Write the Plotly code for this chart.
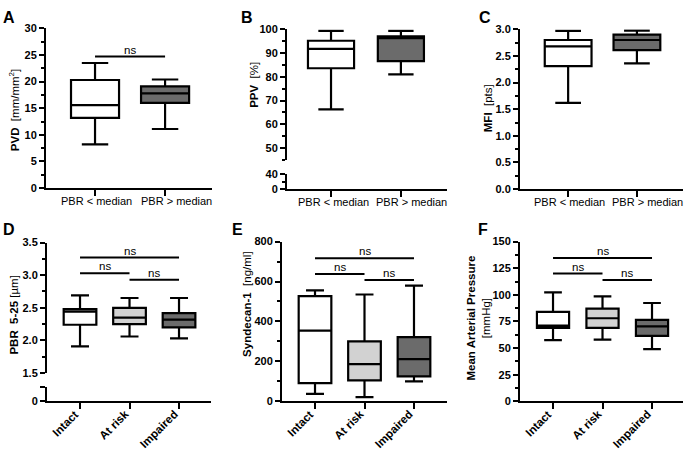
import plotly.graph_objects as go

W, H = 685, 454
FONT = "Liberation Sans, Arial, Helvetica, sans-serif"

# ---------------- data ----------------
ab_cats = ["PBR < median", "PBR > median"]
grp_cats = ["Intact", "At risk", "Impaired"]

# A: PVD
a_low = [8.2, 11.1]
a_q1 = [13.2, 16.0]
a_med = [15.6, 17.8]
a_q3 = [20.3, 19.1]
a_high = [23.5, 20.4]
a_sig = [(0, 1, 24.7)]

# B: PPV
b_low = [66.3, 81.0]
b_q1 = [83.6, 86.6]
b_med = [91.8, 96.3]
b_q3 = [95.2, 97.1]
b_high = [99.4, 99.4]
b_sig = [(0, 1, 102.0)]

# C: MFI
c_low = [1.62, 2.36]
c_q1 = [2.31, 2.61]
c_med = [2.68, 2.80]
c_q3 = [2.80, 2.90]
c_high = [2.97, 2.975]
c_sig = [(0, 1, 3.06)]

# D: PBR 5-25
d_low = [1.91, 2.06, 2.03]
d_q1 = [2.24, 2.25, 2.20]
d_med = [2.44, 2.35, 2.32]
d_q3 = [2.48, 2.50, 2.42]
d_high = [2.69, 2.65, 2.65]
d_sig = [(0, 2, 3.27), (0, 1, 3.03), (1, 2, 2.93)]

# E: Syndecan-1
e_low = [37, 21, 100]
e_q1 = [91, 105, 125]
e_med = [354, 186, 211]
e_q3 = [527, 300, 321]
e_high = [556, 535, 579]
e_sig = [(0, 2, 716), (0, 1, 638), (1, 2, 608)]

# F: Mean arterial pressure
f_low = [57.4, 58.0, 48.9]
f_q1 = [69.0, 69.0, 61.4]
f_med = [71.0, 78.0, 70.3]
f_q3 = [84.0, 87.0, 76.4]
f_high = [102.3, 98.6, 92.3]
f_sig = [(0, 2, 134.7), (0, 1, 120.0), (1, 2, 114.0)]

ab_fill = ["#ffffff", "#6b6b6b"]
grp_fill = ["#ffffff", "#d2d2d2", "#6b6b6b"]


def xd(l, r):
    return [l / W, r / W]


def yd(top, bottom):
    return [1 - bottom / H, 1 - top / H]


fig = go.Figure()


def add_boxes(xa, ya, lows, q1s, meds, q3s, highs, fills, width):
    for i in range(len(lows)):
        fig.add_trace(go.Box(
            x=[i], q1=[q1s[i]], median=[meds[i]], q3=[q3s[i]],
            lowerfence=[lows[i]], upperfence=[highs[i]],
            xaxis=xa, yaxis=ya, fillcolor=fills[i],
            line=dict(color="black", width=2.2), width=width,
            whiskerwidth=0.55, boxpoints=False, showlegend=False,
            hoverinfo="skip",
        ))


def add_sig(xa, ya, sigs):
    for (i, j, lev) in sigs:
        fig.add_trace(go.Scatter(
            x=[i, j], y=[lev, lev], mode="lines", xaxis=xa, yaxis=ya,
            line=dict(color="black", width=2), showlegend=False,
            hoverinfo="skip",
        ))
        fig.add_annotation(
            x=(i + j) / 2, y=lev, xref=xa, yref=ya, text="ns",
            showarrow=False, yanchor="bottom", yshift=-1,
            font=dict(family=FONT, size=11.5, color="black"),
        )


def rot_labels(xa, cats, ypx):
    for i, c in enumerate(cats):
        fig.add_annotation(
            x=i, y=1 - ypx / H, xref=xa, yref="paper", text=f"<b>{c}</b>",
            showarrow=False, textangle=-45, xanchor="right", yanchor="top",
            xshift=4, font=dict(family=FONT, size=11.5, color="black"),
        )


def flat_labels(xa, cats, ypx, shifts):
    for i, c in enumerate(cats):
        fig.add_annotation(
            x=i, y=1 - ypx / H, xref=xa, yref="paper", text=c,
            showarrow=False, xanchor="center", yanchor="top",
            xshift=shifts[i], font=dict(family=FONT, size=11, color="black"),
        )


def dummy(xa, ya):
    fig.add_trace(go.Scatter(x=[None], y=[None], xaxis=xa, yaxis=ya,
                             showlegend=False, hoverinfo="skip"))


add_boxes("x", "y", a_low, a_q1, a_med, a_q3, a_high, ab_fill, 0.686)
add_sig("x", "y", a_sig)
add_boxes("x2", "y2", b_low, b_q1, b_med, b_q3, b_high, ab_fill, 0.66)
add_sig("x2", "y2", b_sig)
dummy("x2", "y3")
add_boxes("x3", "y4", c_low, c_q1, c_med, c_q3, c_high, ab_fill, 0.68)
add_sig("x3", "y4", c_sig)
add_boxes("x4", "y5", d_low, d_q1, d_med, d_q3, d_high, grp_fill, 0.66)
add_sig("x4", "y5", d_sig)
dummy("x4", "y6")
add_boxes("x5", "y7", e_low, e_q1, e_med, e_q3, e_high, grp_fill, 0.66)
add_sig("x5", "y7", e_sig)
add_boxes("x6", "y8", f_low, f_q1, f_med, f_q3, f_high, grp_fill, 0.65)
add_sig("x6", "y8", f_sig)

flat_labels("x", ab_cats, 192, [1, 11])
flat_labels("x2", ab_cats, 193, [2, 11])
flat_labels("x3", ab_cats, 193, [1, 11])
rot_labels("x4", grp_cats, 410)
rot_labels("x5", grp_cats, 410)
rot_labels("x6", grp_cats, 410)

common = dict(showline=True, linewidth=2, linecolor="black", ticks="outside",
              ticklen=5, tickwidth=2, tickcolor="black", showgrid=False,
              zeroline=False, fixedrange=True)
ytick = dict(family=FONT, size=11, color="black", weight=700)


def yax(dom, anchor, rng, dtick, minor, tick0=0, **kw):
    d = dict(common, domain=dom, anchor=anchor, range=rng, dtick=dtick,
             tick0=tick0, tickfont=ytick,
             minor=dict(ticks="outside", ticklen=3, tickwidth=2,
                        tickcolor="black", dtick=minor, tick0=tick0,
                        showgrid=False))
    d.update(kw)
    return d


def xax(dom, anchor, rng, cats):
    return dict(common, domain=dom, anchor=anchor, range=rng,
                tickmode="array", tickvals=list(range(len(cats))),
                ticktext=cats, showticklabels=False, ticklen=6)


fig.update_layout(
    width=W, height=H, margin=dict(l=0, r=0, t=0, b=0),
    paper_bgcolor="white", plot_bgcolor="rgba(0,0,0,0)",
    font=dict(family=FONT, color="black"),
    boxmode="overlay", showlegend=False,
    # A
    xaxis=xax(xd(46, 212), "y", [-0.7, 1.67], ab_cats),
    yaxis=yax(yd(23, 187), "x", [0, 30], 5, 2.5),
    # B
    xaxis2=xax(xd(287, 447), "y3", [-0.63, 1.66], ab_cats),
    yaxis2=yax(yd(24, 158), "x2", [45, 100], 10, 5),
    yaxis3=dict(common, domain=yd(173, 188), anchor="x2", range=[0, 40],
                tickmode="array", tickvals=[0, 40], tickfont=ytick,
                minor=dict(ticks="outside", ticklen=3, tickwidth=2,
                           tickcolor="black", tickvals=[20])),
    # C
    xaxis3=xax(xd(520, 683), "y4", [-0.7, 1.67], ab_cats),
    yaxis4=yax(yd(24, 188), "x3", [0, 3.0], 0.5, 0.25, tickformat=".1f"),
    # D
    xaxis4=xax(xd(47, 211), "y6", [-0.667, 2.646], grp_cats),
    yaxis5=yax(yd(243, 377), "x4", [1.5, 3.5], 0.5, 0.25, tickformat=".1f"),
    yaxis6=dict(common, domain=yd(391, 406), anchor="x4", range=[0, 1],
                tickmode="array", tickvals=[0], tickfont=ytick,
                minor=dict(ticks="outside", ticklen=5, tickwidth=2,
                           tickcolor="black", tickvals=[1])),
    # E
    xaxis5=xax(xd(282, 447), "y7", [-0.667, 2.667], grp_cats),
    yaxis7=yax(yd(242, 406), "x5", [0, 800], 200, 100),
    # F
    xaxis6=xax(xd(520, 683), "y8", [-0.667, 2.626], grp_cats),
    yaxis8=yax(yd(242, 406), "x6", [0, 150], 25, 12.5),
)

# panel letters
letters = [("A", 1, 1), ("B", 239, 1), ("C", 477, 1),
           ("D", 1, 219), ("E", 230, 219), ("F", 476, 219)]
for t, px, py in letters:
    fig.add_annotation(x=px / W, y=1 - py / H, xref="paper", yref="paper",
                       text=f"<b>{t}</b>", showarrow=False, xanchor="left",
                       yanchor="top", font=dict(family=FONT, size=16, color="black"))

# y-axis titles
ytitles = [
    ("<b>PVD</b>  [mm/mm<sup>2</sup>]", 14, 107),
    ("<b>PPV</b>  [%]", 254, 81),
    ("<b>MFI</b>  [pts]", 488, 105),
    ("<b>PBR  5-25</b> [µm]", 14, 318),
    ("<b>Syndecan-1</b>  [ng/ml]", 247, 307),
    ("<b>Mean Arterial Pressure</b><br>[mmHg]", 479, 321),
]
for t, px, py in ytitles:
    fig.add_annotation(x=px / W, y=1 - py / H, xref="paper", yref="paper",
                       text=t, showarrow=False, textangle=-90,
                       xanchor="center", yanchor="middle",
                       font=dict(family=FONT, size=11.5, color="black"))

fig.write_html(
    "out.html",
    config={"displayModeBar": False, "staticPlot": True},
    post_script="document.body.style.margin='0px';"
                "document.body.style.padding='0px';"
                "document.body.style.overflow='hidden';",
)
